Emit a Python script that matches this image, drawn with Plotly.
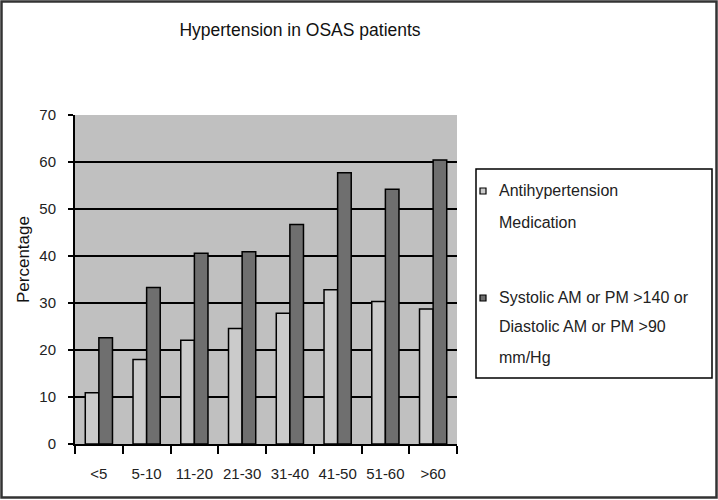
import plotly.graph_objects as go

categories = ["<5", "5-10", "11-20", "21-30", "31-40", "41-50", "51-60", ">60"]
medication = [10.9, 18.0, 22.1, 24.6, 27.8, 32.8, 30.3, 28.7]
high_bp = [22.6, 33.3, 40.6, 40.9, 46.7, 57.7, 54.2, 60.4]
y_ticks = [0, 10, 20, 30, 40, 50, 60, 70]
legend_lines = [
    ["Antihypertension", "Medication"],
    ["Systolic AM or PM >140 or", "Diastolic AM or PM >90", "mm/Hg"],
]

FONT = "Liberation Sans, Arial, sans-serif"
LIGHT = "#cbcbcb"
DARK = "#6f6f6f"

# plot area in pixels
L, R, T, B = 75, 457, 115, 444
W, H = 718, 500


def px(x):
    return (x - L) / (R - L)


def py(y):
    return (B - y) / (B - T)


fig = go.Figure()
fig.add_trace(go.Bar(
    x=categories, y=medication, name=" ".join(legend_lines[0]),
    marker=dict(color=LIGHT, line=dict(color="#000000", width=1.5)),
    showlegend=False,
))
fig.add_trace(go.Bar(
    x=categories, y=high_bp, name=" ".join(legend_lines[1]),
    marker=dict(color=DARK, line=dict(color="#000000", width=1.5)),
    showlegend=False,
))

fig.update_layout(
    width=W, height=H,
    margin=dict(l=L, r=W - R, t=T, b=H - B, autoexpand=False),
    paper_bgcolor="white",
    plot_bgcolor="#c0c0c0",
    barmode="group",
    bargap=0.43,
    bargroupgap=0,
    font=dict(family=FONT, size=15, color="#111111"),
    title=dict(text="Hypertension in OSAS patients", x=300 / W, xanchor="center",
               y=1 - 30 / H, yanchor="middle",
               font=dict(family=FONT, size=17.5, color="#111111")),
)
fig.update_xaxes(
    showline=True, linecolor="#000000", linewidth=2,
    ticks="outside", tickson="boundaries", ticklen=8, tickcolor="#000000", tickwidth=2,
    showgrid=False, tickfont=dict(size=15, color="#222222"), ticklabelstandoff=15,
    tickangle=0,
)
fig.update_yaxes(
    range=[0, 70], tickvals=y_ticks,
    showline=True, linecolor="#000000", linewidth=2,
    ticks="outside", ticklen=5, tickcolor="#000000", tickwidth=2,
    showgrid=True, gridcolor="#000000", gridwidth=2,
    zeroline=False, tickfont=dict(size=15, color="#222222"), ticklabelstandoff=9,
)

# y-axis title
fig.add_annotation(text="Percentage", xref="paper", yref="paper",
                   x=px(23), y=py(260), xanchor="center", yanchor="middle",
                   textangle=-90, showarrow=False,
                   font=dict(family=FONT, size=17, color="#111111"))

# legend frame
fig.add_shape(type="rect", xref="paper", yref="paper",
              x0=px(476), x1=px(712), y0=py(378), y1=py(169),
              line=dict(color="#000000", width=1.5), fillcolor="rgba(0,0,0,0)")
# legend entries (markers + text lines)
entry_rows = [[190, 222], [297, 326, 357]]
entry_colors = [LIGHT, DARK]
for lines, rows, col in zip(legend_lines, entry_rows, entry_colors):
    y0 = rows[0]
    fig.add_shape(type="rect", xref="paper", yref="paper",
                  x0=px(480), x1=px(486), y0=py(y0 + 4), y1=py(y0 - 2),
                  line=dict(color="#000000", width=1.2), fillcolor=col)
    for text, yy in zip(lines, rows):
        fig.add_annotation(text=text, xref="paper", yref="paper",
                           x=px(497), y=py(yy), xanchor="left", yanchor="middle",
                           showarrow=False,
                           font=dict(family=FONT, size=16, color="#222222"))

# outer frame of the figure
fig.add_shape(type="rect", xref="paper", yref="paper",
              x0=px(1.5), x1=px(716.5), y0=py(497.5), y1=py(1.5),
              line=dict(color="#333333", width=2.5), fillcolor="rgba(0,0,0,0)")

fig.write_html("out.html", config={"displayModeBar": False},
               post_script="document.body.style.margin='0';")
